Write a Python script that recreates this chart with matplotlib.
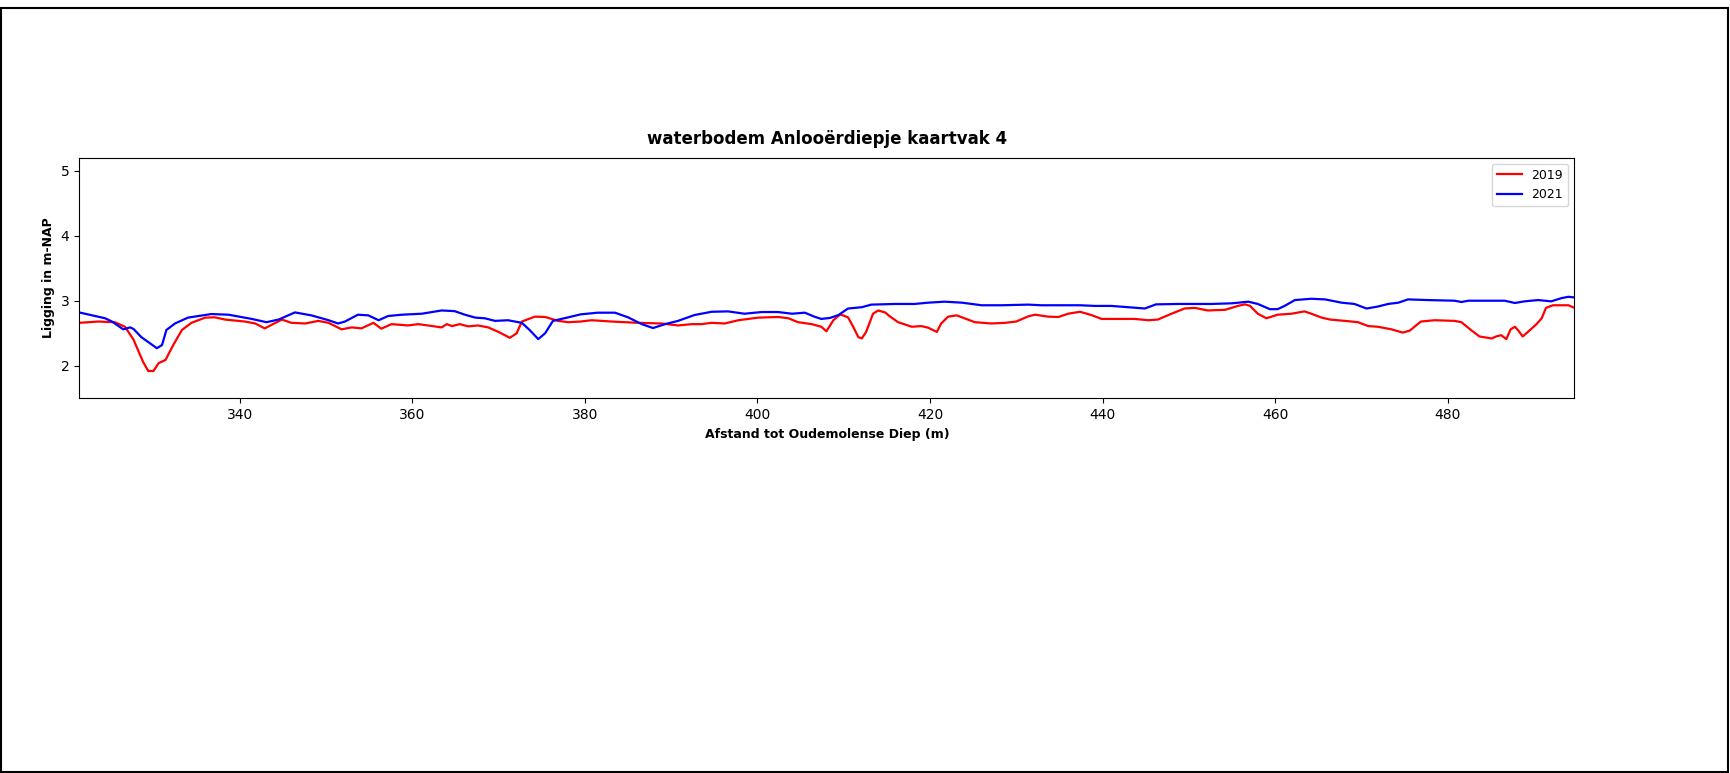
#!/usr/bin/env python3
"""
Lengteprofiel waterbodem Anlooerdiepje, kaartvak 4 (2019 vs 2021)
"""
import matplotlib
matplotlib.use('Agg')
import matplotlib.pyplot as plt
import matplotlib.patches as patches

# Afstand (m) en ligging (m-NAP), 2019
dist_2019 = [321.4, 323.6, 325.5, 326.7, 327.7, 328.8, 329.4, 330.0, 330.6, 331.4,
             332.3, 333.3, 334.4, 336.0, 337.1, 338.3, 340.6, 341.8, 342.9, 343.7,
             344.9, 346.0, 347.6, 349.1, 350.3, 351.8, 353.0, 354.1, 355.5, 356.4,
             357.6, 359.5, 360.7, 361.8, 363.4, 364.0, 364.6, 365.5, 366.5, 367.6,
             368.8, 370.0, 371.3, 372.1, 372.7, 374.2, 375.4, 376.9, 378.1, 379.5,
             380.8, 383.1, 386.2, 388.9, 390.8, 392.4, 393.5, 394.7, 396.2, 397.8,
             400.1, 402.4, 403.6, 404.7, 406.3, 407.4, 408.0, 408.8, 409.6, 410.5,
             411.1, 411.7, 412.1, 412.6, 413.4, 414.0, 414.8, 415.3, 416.3, 417.9,
             419.0, 419.8, 420.8, 421.3, 422.1, 423.1, 424.0, 425.2, 427.1, 428.7,
             430.0, 431.4, 432.2, 433.7, 434.9, 436.0, 437.4, 438.7, 439.9, 441.8,
             443.7, 445.3, 446.4, 448.0, 449.5, 450.7, 452.2, 454.2, 455.7, 456.5,
             457.1, 458.0, 459.0, 460.3, 461.9, 463.4, 464.2, 465.4, 466.4, 468.1,
             469.6, 470.8, 471.9, 473.5, 474.8, 475.6, 476.9, 478.5, 480.8, 481.6,
             482.7, 483.7, 485.1, 485.6, 486.2, 486.8, 487.3, 487.8, 488.2, 488.7,
             489.3, 490.3, 490.9, 491.4, 492.2, 494.0, 494.7]
depth_2019 = [2.66, 2.68, 2.67, 2.60, 2.40, 2.06, 1.92, 1.92, 2.04, 2.09,
              2.32, 2.55, 2.66, 2.74, 2.745, 2.71, 2.68, 2.65, 2.575, 2.63,
              2.71, 2.66, 2.65, 2.69, 2.66, 2.56, 2.59, 2.575, 2.66, 2.57,
              2.64, 2.62, 2.64, 2.62, 2.59, 2.64, 2.61, 2.64, 2.605, 2.62,
              2.59, 2.52, 2.43, 2.50, 2.68, 2.755, 2.75, 2.69, 2.67, 2.68,
              2.70, 2.68, 2.66, 2.65, 2.62, 2.64, 2.64, 2.66, 2.65, 2.70,
              2.74, 2.75, 2.73, 2.67, 2.64, 2.60, 2.53, 2.70, 2.79, 2.745,
              2.60, 2.44, 2.42, 2.52, 2.80, 2.85, 2.82, 2.765, 2.67, 2.60,
              2.61, 2.585, 2.52, 2.65, 2.755, 2.775, 2.73, 2.67, 2.65, 2.66,
              2.68, 2.76, 2.785, 2.755, 2.75, 2.80, 2.83, 2.78, 2.72, 2.72,
              2.72, 2.70, 2.71, 2.80, 2.88, 2.89, 2.85, 2.86, 2.92, 2.944,
              2.92, 2.80, 2.73, 2.785, 2.80, 2.836, 2.80, 2.74, 2.71, 2.69,
              2.67, 2.61, 2.60, 2.56, 2.51, 2.54, 2.68, 2.70, 2.69, 2.67,
              2.55, 2.45, 2.42, 2.45, 2.47, 2.41, 2.56, 2.60, 2.54, 2.45,
              2.52, 2.64, 2.73, 2.89, 2.93, 2.93, 2.89]

# Afstand (m) en ligging (m-NAP), 2021
dist_2021 = [321.4, 324.4, 325.2, 326.5, 327.3, 327.7, 328.6, 330.4, 331.0, 331.5,
             332.5, 334.0, 336.7, 338.7, 341.4, 343.1, 344.5, 346.4, 348.3, 350.3,
             351.4, 352.2, 353.7, 354.9, 356.1, 357.2, 358.8, 361.1, 363.4, 364.9,
             366.1, 367.3, 368.4, 369.6, 371.1, 372.7, 373.6, 374.6, 375.4, 376.3,
             378.1, 379.5, 381.5, 383.5, 385.0, 386.6, 387.9, 389.3, 390.8, 392.7,
             394.7, 396.6, 398.5, 400.5, 402.4, 404.0, 405.5, 406.6, 407.4, 408.4,
             409.4, 410.5, 412.1, 413.2, 415.9, 418.2, 419.8, 421.7, 423.7, 426.0,
             428.3, 431.4, 432.9, 435.2, 437.4, 439.1, 441.0, 443.0, 444.9, 446.2,
             448.8, 452.6, 455.0, 456.9, 458.0, 459.4, 460.3, 461.1, 462.3, 464.2,
             465.8, 467.7, 469.2, 470.6, 471.9, 473.1, 474.3, 475.4, 477.7, 480.8,
             481.6, 482.4, 485.5, 486.6, 487.8, 488.9, 490.5, 492.0, 493.2, 494.0,
             494.7]
depth_2021 = [2.82, 2.73, 2.68, 2.56, 2.59, 2.565, 2.44, 2.27, 2.32, 2.55,
              2.65, 2.74, 2.795, 2.785, 2.72, 2.67, 2.71, 2.82, 2.775, 2.70,
              2.65, 2.68, 2.785, 2.775, 2.70, 2.765, 2.785, 2.80, 2.85, 2.84,
              2.785, 2.74, 2.73, 2.69, 2.70, 2.66, 2.55, 2.41, 2.50, 2.69,
              2.745, 2.79, 2.816, 2.816, 2.745, 2.64, 2.58, 2.64, 2.69, 2.78,
              2.83, 2.836, 2.80, 2.826, 2.826, 2.80, 2.816, 2.755, 2.72, 2.735,
              2.78, 2.88, 2.90, 2.94, 2.95, 2.95, 2.97, 2.985, 2.97, 2.93,
              2.93, 2.94, 2.93, 2.93, 2.93, 2.92, 2.92, 2.90, 2.88, 2.944,
              2.95, 2.95, 2.96, 2.985, 2.95, 2.87, 2.87, 2.92, 3.01, 3.03,
              3.02, 2.97, 2.95, 2.88, 2.91, 2.95, 2.97, 3.02, 3.01, 3.00,
              2.98, 3.00, 3.00, 3.00, 2.965, 2.99, 3.01, 2.99, 3.04, 3.06,
              3.05]

years = ['2019', '2021']
y_ticks = [2, 3, 4, 5]
title = 'waterbodem Anlooërdiepje kaartvak 4'


def plot_profile(output_path='out.png'):
    """Teken het lengteprofiel en sla op"""
    fig = plt.figure(figsize=(17.30, 7.73), dpi=100)
    ax = fig.add_axes([0.0458, 0.4847, 0.8643, 0.3115])

    ax.plot(dist_2019, depth_2019, color='red', lw=1.6, label=years[0])
    ax.plot(dist_2021, depth_2021, color='blue', lw=1.6, label=years[1])

    # Styling
    ax.set_xlim(min(dist_2019 + dist_2021), max(dist_2019 + dist_2021))
    ax.set_ylim(1.5, 5.2)
    ax.set_yticks(y_ticks)
    ax.set_title(title, fontsize=12, fontweight='bold', pad=10)
    ax.set_xlabel('Afstand tot Oudemolense Diep (m)', fontsize=9, fontweight='bold')
    ax.set_ylabel('Ligging in m-NAP', fontsize=9, fontweight='bold')
    ax.legend(loc='upper right', fontsize=9)

    # zwarte rand om de hele figuur
    w, h = 1730, 773
    frame = patches.Rectangle((1 / w, 1 / h), 1727 / w, 764 / h,
                              transform=fig.transFigure, fill=False,
                              edgecolor='black', linewidth=1.5)
    fig.patches.append(frame)

    plt.savefig(output_path, dpi=100)


if __name__ == "__main__":
    plot_profile()
